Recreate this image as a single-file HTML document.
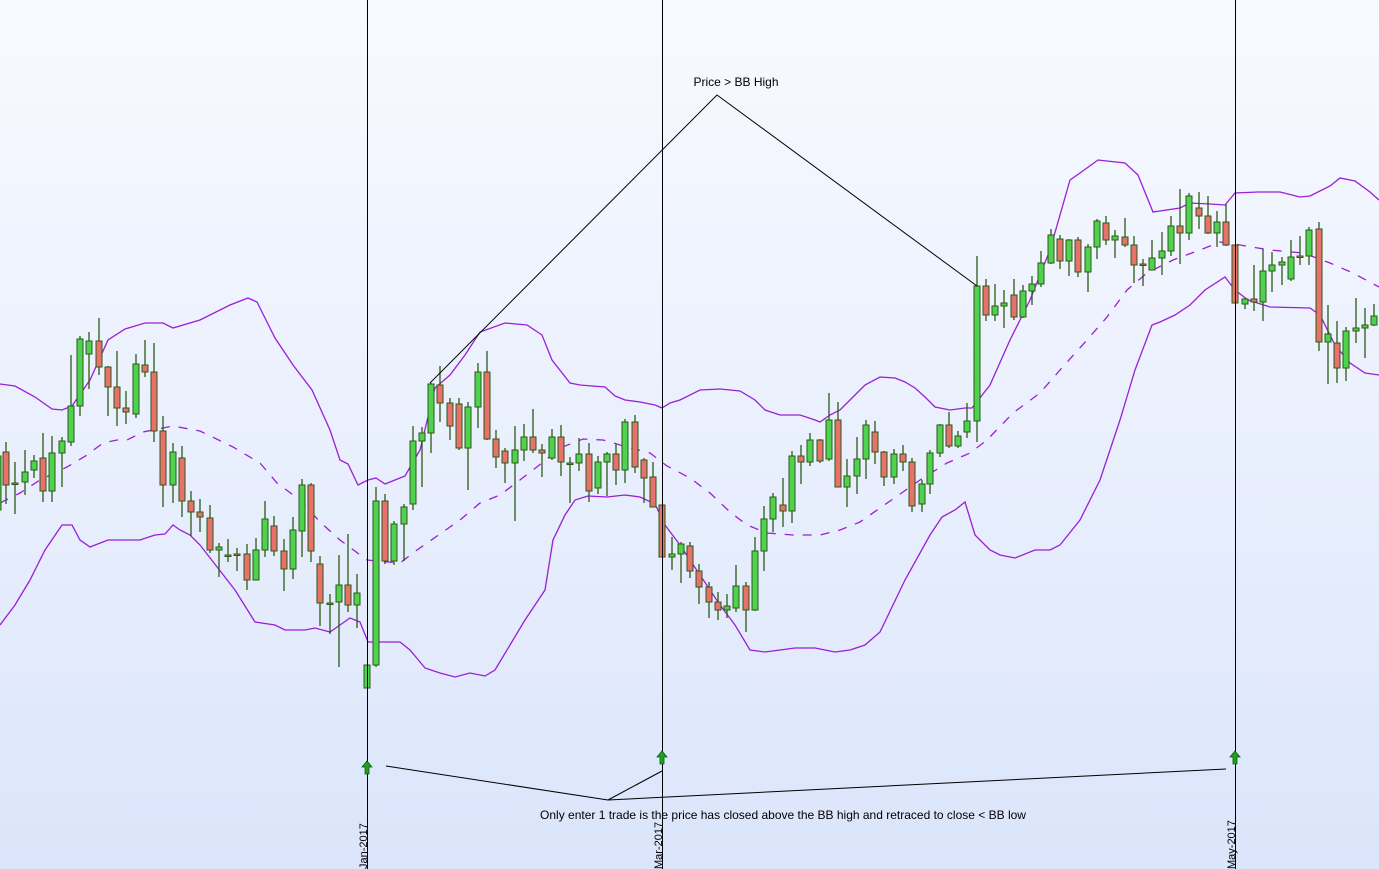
<!DOCTYPE html>
<html><head><meta charset="utf-8"><style>
html,body{margin:0;padding:0;width:1379px;height:869px;overflow:hidden}
body{background:linear-gradient(#f8faff,#dbe5fb);font-family:"Liberation Sans",sans-serif}
</style></head><body>
<svg id="s" width="1379" height="869" xmlns="http://www.w3.org/2000/svg" style="position:absolute;left:0;top:0">
<g id="bands" fill="none" stroke="#9a1fd6" stroke-width="1.3">
<polyline points="0,384 15,386 35,397 52,409 62,410 72,406 90,380 108,340 125,329 145,323 163,323 173,328 200,320 230,305 248,298 257,302 275,338 293,365 312,390 330,430 340,460 348,464 358,485 368,480 376,478 385,484 400,478 405,476 420,450 435,388 450,375 465,355 480,332 505,323 527,325 542,335 552,360 570,383 580,385 605,387 615,396 625,400 640,402 655,405 662,408 670,403 680,400 700,390 720,389 740,391 755,400 765,410 780,415 800,415 815,420 820,422 830,415 840,410 850,400 865,385 880,377 895,378 905,382 915,388 925,397 935,407 950,410 965,408 972,408 990,385 1010,340 1030,300 1050,250 1070,180 1080,173 1098,160 1125,163 1138,175 1153,212 1180,208 1190,203 1210,204 1225,205 1235,193 1258,192 1280,192 1300,197 1310,196 1330,186 1340,178 1355,181 1370,192 1379,200"/>
<polyline points="0,625 15,605 30,580 45,550 62,525 72,525 80,540 90,547 108,540 140,540 155,535 165,534 173,525 180,530 190,535 200,545 235,590 255,622 275,625 285,630 305,630 315,628 330,632 340,625 350,618 360,622 368,642 400,642 410,650 425,668 440,673 455,677 470,673 485,676 495,670 510,645 525,620 545,590 553,540 565,515 575,500 588,496 607,497 625,495 640,497 655,504 665,525 680,545 700,575 720,605 735,625 750,650 765,652 795,648 815,648 835,652 850,650 865,645 880,632 905,580 930,535 942,517 955,510 965,502 975,535 990,550 1000,555 1015,558 1035,550 1050,550 1060,545 1080,520 1100,480 1120,420 1135,370 1152,325 1160,322 1175,315 1190,305 1205,290 1225,277 1235,290 1248,300 1270,307 1310,308 1320,315 1335,345 1350,363 1365,373 1379,375"/>
<polyline stroke-dasharray="9,9" points="0,503 20,493 40,480 67,467 87,455 103,443 117,440 127,440 143,432 173,426 200,431 233,447 260,463 277,483 300,500 320,522 340,540 367,560 400,563 417,550 450,527 460,520 480,503 500,495 520,480 542,463 560,448 583,439 603,440 627,447 650,453 667,466 690,478 710,493 730,512 747,525 767,533 793,535 820,535 840,530 860,522 880,508 903,492 920,480 947,463 970,453 987,440 1013,413 1040,393 1060,370 1087,340 1107,317 1127,290 1147,273 1173,260 1200,250 1220,242 1240,245 1270,250 1303,253 1330,263 1353,273 1379,287"/>
</g>
<g id="c"></g>
<g stroke="#000" stroke-width="1">
<line x1="367.5" y1="0" x2="367.5" y2="869"/>
<line x1="662.5" y1="0" x2="662.5" y2="869"/>
<line x1="1235.5" y1="0" x2="1235.5" y2="869"/>
<polyline fill="none" points="430,383 717,95 977,286"/>
<line x1="386" y1="766" x2="608" y2="800"/>
<line x1="662" y1="771" x2="608" y2="800"/>
<line x1="1226" y1="769" x2="608" y2="800"/>
</g>
<g fill="#1fa01f" stroke="#0a5a0a" stroke-width="0.8">
<path d="M367,761 l5,6 h-3 v7 h-4 v-7 h-3z"/>
<path d="M662,751 l5,6 h-3 v7 h-4 v-7 h-3z"/>
<path d="M1235,751 l5,6 h-3 v7 h-4 v-7 h-3z"/>
</g>
<g font-size="12" fill="#000">
<text x="736" y="86" text-anchor="middle">Price &gt; BB High</text>
<text x="783" y="819" text-anchor="middle">Only enter 1 trade is the price has closed above the BB high and retraced to close &lt; BB low</text>
<text font-size="11" transform="translate(367,869) rotate(-90)">Jan-2017</text>
<text font-size="11" transform="translate(662,869) rotate(-90)">Mar-2017</text>
<text font-size="11" transform="translate(1235,869) rotate(-90)">May-2017</text>
</g>
</svg>
<script>
// x, open, close, high, low
var d=[[-2,510,456,442,522],[6,452,485,442,504],[15,483,484,462,514],[25,482,472,450,495],[34,470,461,455,478],[43,458,491,433,502],[52,491,453,436,502],[62,453,441,437,487],[71,442,406,355,446],[80,406,339,336,416],[89,354,341,332,389],[99,341,367,318,375],[108,367,387,366,416],[117,387,408,351,426],[126,408,412,391,424],[136,414,364,354,418],[145,365,372,340,377],[154,372,431,343,442],[163,431,485,416,507],[173,485,452,443,503],[182,458,501,446,517],[191,501,512,491,536],[200,512,517,499,532],[210,518,550,505,553],[219,550,547,543,577],[228,555,555,539,562],[237,554,554,548,571],[247,554,580,544,590],[256,580,550,538,580],[265,550,519,501,557],[274,526,551,516,556],[284,551,569,539,591],[293,569,530,517,579],[302,531,485,479,557],[311,485,551,483,562],[320,564,603,556,626],[330,603,603,594,634],[339,602,585,555,667],[348,585,605,534,612],[357,605,593,574,628],[367,688,665,665,688],[376,665,501,487,667],[385,501,561,494,564],[394,561,524,521,565],[404,524,507,504,561],[413,504,441,426,510],[422,441,433,427,487],[431,433,384,383,453],[440,385,403,366,422],[450,403,426,398,440],[459,404,448,398,450],[468,448,407,402,490],[478,407,372,363,428],[487,372,439,351,440],[496,439,457,430,468],[505,451,463,448,483],[515,463,450,426,521],[524,450,437,424,461],[533,437,450,409,453],[542,450,453,444,477],[552,458,437,429,460],[561,437,462,425,476],[570,463,463,457,503],[579,463,454,438,471],[589,454,491,443,502],[598,488,462,456,494],[607,462,454,452,496],[616,454,470,444,485],[625,470,422,419,483],[635,422,467,415,473],[644,460,478,458,503],[653,477,507,462,507],[662,505,557,505,557],[672,557,554,537,570],[681,554,544,542,583],[690,546,571,542,578],[699,571,587,564,604],[709,587,602,582,618],[718,602,610,592,620],[727,610,606,594,618],[736,608,586,565,612],[746,586,610,582,632],[755,610,551,537,611],[764,551,519,506,571],[773,519,497,493,532],[783,505,511,478,527],[792,511,456,451,523],[801,456,462,445,484],[810,462,440,433,466],[820,440,461,439,463],[829,459,420,393,461],[838,420,487,402,487],[847,487,476,459,507],[857,476,459,437,494],[866,459,425,420,479],[875,432,452,421,464],[884,452,477,451,486],[894,477,454,449,484],[903,454,462,445,471],[912,462,506,458,512],[922,504,484,480,512],[930,484,453,450,494],[940,453,425,424,457],[949,425,446,412,448],[958,446,436,431,448],[967,432,421,403,438],[977,421,286,256,442],[986,286,315,279,321],[995,315,306,284,321],[1004,306,303,290,328],[1014,295,317,279,320],[1023,317,291,285,318],[1032,291,284,276,305],[1041,284,263,251,287],[1051,263,235,229,264],[1060,239,261,235,269],[1069,261,240,239,276],[1078,240,272,237,277],[1088,272,247,244,292],[1097,247,221,219,259],[1106,223,240,216,245],[1115,240,236,230,258],[1125,237,245,218,247],[1134,245,265,236,283],[1143,264,264,259,286],[1152,270,258,240,270],[1162,258,251,232,275],[1171,251,226,216,256],[1180,226,233,189,264],[1189,233,196,193,240],[1199,208,216,192,229],[1208,216,233,196,234],[1217,233,222,211,247],[1226,222,245,204,246],[1235,245,303,245,303],[1245,304,299,298,309],[1254,299,302,265,311],[1263,302,271,249,321],[1272,271,265,252,292],[1282,265,262,257,285],[1291,279,257,240,281],[1300,256,256,236,265],[1309,256,230,227,265],[1319,229,342,222,351],[1328,342,334,305,384],[1337,343,368,321,383],[1346,368,331,327,381],[1356,331,328,298,343],[1365,328,325,308,358],[1374,325,316,304,326]];
var g=document.getElementById('c'),h='';
d.forEach(function(c){var x=c[0],o=c[1],cl=c[2],hi=c[3],lo=c[4];var up=cl<o;var t=Math.min(o,cl),b=Math.max(o,cl);if(b-t<1.5){b=t+1.5;}
h+='<line x1="'+x+'" x2="'+x+'" y1="'+hi+'" y2="'+lo+'" stroke="#2b5a16" stroke-width="1.3"/>';
h+='<rect x="'+(x-3)+'" y="'+t+'" width="6" height="'+(b-t)+'" fill="'+(up?'#4fd24f':'#e8726b')+'" stroke="#2b5a16" stroke-width="1"/>';});
g.innerHTML=h;
</script>
</body></html>
